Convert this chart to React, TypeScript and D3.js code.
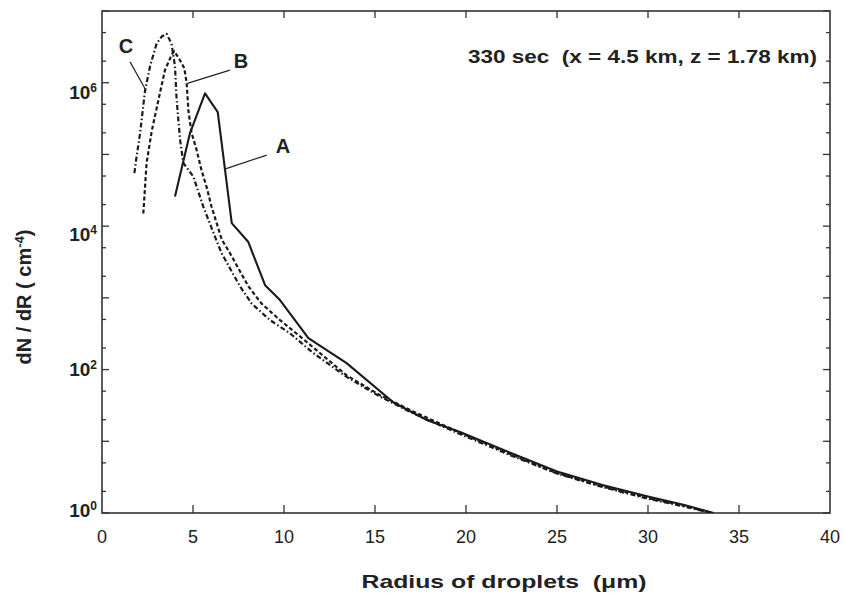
import * as d3 from "d3";
import { useEffect, useRef } from "react";

// radius (um) and dN/dR (cm^-4)
const radiusA = [4.01, 4.84, 5.66, 6.36, 7.13, 8.04, 8.96, 9.78, 11.34, 13.44, 16.0, 17.8, 19.67, 22.5, 25, 27.5, 30, 32, 33.6];
const valuesA = [2.6e4, 2.0e5, 7.1e5, 3.9e5, 1.1e4, 6.0e3, 1.5e3, 930, 275, 123, 35, 20, 13.5, 6.8, 3.8, 2.45, 1.7, 1.29, 1.0];

const radiusB = [2.27, 2.45, 2.73, 3.09, 3.46, 3.83, 3.97, 4.29, 4.52, 4.65, 4.75, 4.92, 5.2, 5.47, 5.75, 6.02, 6.3, 6.58, 7.03, 8.04, 8.77, 9.78, 10.88, 13.44, 15.27, 17.1, 19.67, 22.5, 25, 27.5, 30, 32, 33.5];
const valuesB = [1.5e4, 7.6e4, 2.1e5, 5.6e5, 1.5e6, 2.45e6, 2.75e6, 2.05e6, 1.6e6, 1.0e6, 4.0e5, 2.0e5, 1.15e5, 6.0e4, 3.5e4, 1.86e4, 1.1e4, 6.5e3, 4.2e3, 1.45e3, 830, 490, 290, 83, 44, 26, 13.2, 6.5, 3.6, 2.35, 1.62, 1.26, 1.0];

const radiusC = [1.78, 1.9, 2.09, 2.36, 2.64, 3.0, 3.28, 3.55, 3.82, 4.01, 4.1, 4.29, 4.47, 5.02, 5.57, 6.21, 6.57, 7.58, 8.23, 9.23, 10.33, 11.61, 13.44, 15.27, 17.1, 19.67, 22.5, 25, 27.5, 30, 32, 33.5];
const valuesC = [5.5e4, 9.3e4, 1.95e5, 7.6e5, 1.7e6, 3.5e6, 4.4e6, 4.8e6, 3.5e6, 1.7e6, 5.8e5, 1.6e5, 7.6e4, 4.9e4, 1.86e4, 7.1e3, 4.2e3, 1.45e3, 830, 490, 320, 170, 79, 42, 24.5, 12.6, 6.3, 3.55, 2.3, 1.58, 1.23, 1.0];

const xTicks = [0, 5, 10, 15, 20, 25, 30, 35, 40];
const yLabelExps = [0, 2, 4, 6];

// curve labels: [name, label x, label y, leader start x, y, leader end x, y] in data units
const curveLabels: [string, number, number, number, number, number, number][] = [
    ["C", 1.32, 3.2e6, 1.54, 1.95e6, 2.42, 7.8e5],
    ["B", 7.64, 2.0e6, 7.03, 1.5e6, 4.69, 9.8e5],
    ["A", 9.95, 1.3e5, 9.05, 9.8e4, 6.7, 6.2e4],
];

const title = "330 sec  (x = 4.5 km, z = 1.78 km)";

function Chart({ width = 844, height = 593 }) {
    const svgRef = useRef<SVGSVGElement>(null);

    useEffect(() => {
        const left = 102, right = 830, top = 11, bottom = 513;
        const x = d3.scaleLinear([0, 40], [left, right]);
        const y = d3.scaleLog([1, 1e7], [bottom, top]);
        const ink = "#222";
        const font = "Liberation Sans, Arial, sans-serif";

        const svg = d3.select(svgRef.current);
        svg.selectAll("*").remove();
        svg.attr("width", width).attr("height", height);

        svg.append("rect").attr("width", width).attr("height", height).attr("fill", "white");

        svg.append("clipPath").attr("id", "plot-clip")
            .append("rect").attr("x", left).attr("y", top).attr("width", right - left).attr("height", bottom - top);

        // frame
        svg.append("rect")
            .attr("x", left).attr("y", top)
            .attr("width", right - left).attr("height", bottom - top)
            .attr("fill", "none").attr("stroke", "#333").attr("stroke-width", 1.6);

        // x ticks, bottom and top, pointing inward
        const g = svg.append("g").attr("stroke", "#333").attr("stroke-width", 1.3);
        xTicks.slice(1, -1).forEach(t => {
            g.append("line").attr("x1", x(t)).attr("x2", x(t)).attr("y1", bottom).attr("y2", bottom - 8);
            g.append("line").attr("x1", x(t)).attr("x2", x(t)).attr("y1", top).attr("y2", top + 7);
        });

        // y ticks: decades long, 2 and 5 short
        for (let e = 0; e <= 7; e++) {
            [1, 2, 5].forEach(m => {
                const v = m * Math.pow(10, e);
                if (v > 1e7) return;
                const len = m === 1 ? 7 : 4;
                g.append("line").attr("x1", left).attr("x2", left + len).attr("y1", y(v)).attr("y2", y(v));
                g.append("line").attr("x1", right).attr("x2", right - len).attr("y1", y(v)).attr("y2", y(v));
            });
        }

        // x tick labels
        svg.append("g").selectAll("text").data(xTicks).enter().append("text")
            .attr("x", d => x(d)).attr("y", 543)
            .attr("text-anchor", "middle")
            .attr("font-family", font)
            .attr("font-size", 18).attr("fill", ink)
            .text(d => d);

        // y tick labels, 10^n
        const nudge = [4, 6, 15, 16];
        yLabelExps.forEach((e, i) => {
            const t = svg.append("text")
                .attr("x", 97).attr("y", y(Math.pow(10, e)) + nudge[i])
                .attr("text-anchor", "end")
                .attr("font-family", font)
                .attr("font-weight", "bold").attr("font-size", 19).attr("fill", ink);
            t.append("tspan").text("10");
            t.append("tspan").attr("font-size", 12).attr("dy", -7).text(e);
        });

        // axis titles
        svg.append("text")
            .attr("x", 504).attr("y", 588)
            .attr("text-anchor", "middle")
            .attr("font-family", font)
            .attr("font-weight", "bold").attr("font-size", 19).attr("fill", ink)
            .attr("textLength", 285).attr("lengthAdjust", "spacingAndGlyphs")
            .style("white-space", "pre")
            .text("Radius of droplets  (\u03bcm)");

        const yt = svg.append("text")
            .attr("transform", "translate(31,297) rotate(-90)")
            .attr("text-anchor", "middle")
            .attr("font-family", font)
            .attr("font-weight", "bold").attr("font-size", 20).attr("fill", ink)
            .style("white-space", "pre");
        yt.append("tspan").text("dN / dR ( cm");
        yt.append("tspan").attr("font-size", 13).attr("dy", -7).text("-4");
        yt.append("tspan").attr("dy", 7).text(")");

        // title inside plot
        svg.append("text")
            .attr("x", 817).attr("y", 63)
            .attr("text-anchor", "end")
            .attr("font-family", font)
            .attr("font-weight", "bold").attr("font-size", 19).attr("fill", ink)
            .attr("textLength", 349).attr("lengthAdjust", "spacingAndGlyphs")
            .style("white-space", "pre")
            .text(title);

        // curves
        const line = d3.line<[number, number]>().x(d => x(d[0])).y(d => y(d[1]));
        const series = [
            { r: radiusC, v: valuesC, dash: "5,2.5,1.5,2.5", w: 2.2 },
            { r: radiusB, v: valuesB, dash: "4,2.5", w: 2.2 },
            { r: radiusA, v: valuesA, dash: null, w: 2.1 },
        ];
        const plot = svg.append("g").attr("clip-path", "url(#plot-clip)");
        series.forEach(s => {
            const pts = s.r.map((r, i) => [r, s.v[i]] as [number, number]);
            plot.append("path")
                .attr("d", line(pts))
                .attr("fill", "none")
                .attr("stroke", "#1a1a1a")
                .attr("stroke-width", s.w)
                .attr("stroke-linejoin", "round")
                .attr("stroke-dasharray", s.dash);
        });

        // curve labels with leader lines
        curveLabels.forEach(([name, lx, ly, x1, y1, x2, y2]) => {
            svg.append("line")
                .attr("x1", x(x1)).attr("y1", y(y1)).attr("x2", x(x2)).attr("y2", y(y2))
                .attr("stroke", ink).attr("stroke-width", 1.2);
            svg.append("text")
                .attr("x", x(lx)).attr("y", y(ly) + 7)
                .attr("text-anchor", "middle")
                .attr("font-family", font)
                .attr("font-weight", "bold").attr("font-size", 20).attr("fill", ink)
                .text(name);
        });
    }, []);

    return <svg ref={svgRef} style={{ position: "absolute", left: 0, top: 0 }} />;
}

export default function App() {
    return <Chart />;
}
